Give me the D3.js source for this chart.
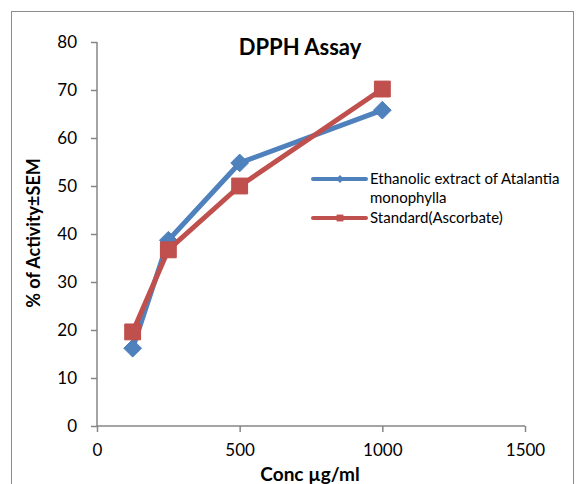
<!DOCTYPE html>
<html>
<head>
<meta charset="utf-8">
<script src="https://cdn.jsdelivr.net/npm/d3@7"></script>
<style>
  body { margin: 0; background: #fff; }
  text { font-family: Lato, "Open Sans", sans-serif; fill: #000; }
</style>
</head>
<body>
<div id="chart"></div>
<script>
// data
const CONC = [125, 250, 500, 1000];
const EXTRACT = [16.2, 38.7, 54.8, 65.8];
const STANDARD = [19.6, 36.7, 50.0, 70.2];
const SERIES_NAMES = ["Ethanolic extract of Atalantia monophylla", "Standard(Ascorbate)"];
const X_TICKS = [0, 500, 1000, 1500];
const Y_TICKS = [0, 10, 20, 30, 40, 50, 60, 70, 80];

const WIDTH = 576;
const HEIGHT = 484;
const MARGINS = {left: 97, right: 54, top: 42, bottom: 58};

const SVG = d3.select("#chart")
              .append("svg")
                .attr("width", WIDTH)
                .attr("height", HEIGHT);

// outer chart frame (bottom and right run off the picture)
SVG.append("rect")
    .attr("x", 11.5)
    .attr("y", 11.5)
    .attr("width", 562)
    .attr("height", 500)
    .attr("fill", "none")
    .attr("stroke", "#8c8c8c")
    .attr("stroke-width", 1);

const X_SCALE = d3.scaleLinear()
                  .domain([0, 1500])
                  .range([MARGINS.left, WIDTH - MARGINS.right + 3]);

const Y_SCALE = d3.scaleLinear()
                  .domain([0, 80])
                  .range([HEIGHT - MARGINS.bottom, MARGINS.top]);

// x axis
const xAxis = SVG.append("g")
    .attr("transform", "translate(0," + Y_SCALE(0) + ")")
    .call(d3.axisBottom(X_SCALE).tickValues(X_TICKS).tickSize(6).tickPadding(12).tickFormat(d3.format("d")));

// y axis
const yAxis = SVG.append("g")
    .attr("transform", "translate(" + X_SCALE(0) + ",0)")
    .call(d3.axisLeft(Y_SCALE).tickValues(Y_TICKS).tickSize(6).tickPadding(14));

[xAxis, yAxis].forEach((ax) => {
  ax.select(".domain").attr("stroke", "#868686").attr("stroke-width", 1.5);
  ax.selectAll(".tick line").attr("stroke", "#868686").attr("stroke-width", 1.5);
  ax.selectAll(".tick text").attr("font-size", "17px").attr("font-family", "Lato, sans-serif").attr("fill", "#000");
});
// d3 draws an outer tick at the ends; keep the line plain
xAxis.select(".domain").attr("d", "M" + X_SCALE(0) + ",0H" + X_SCALE(1500));
yAxis.select(".domain").attr("d", "M0," + Y_SCALE(0) + "V" + Y_SCALE(80));

// titles
SVG.append("text")
    .attr("x", 300)
    .attr("y", 55)
    .attr("text-anchor", "middle")
    .attr("font-size", "22px")
    .attr("font-weight", "bold")
    .text("DPPH Assay");

SVG.append("text")
    .attr("x", 310)
    .attr("y", 481)
    .attr("text-anchor", "middle")
    .attr("font-size", "19px")
    .attr("font-weight", "bold")
    .text("Conc µg/ml");

SVG.append("text")
    .attr("transform", "translate(40,233) rotate(-90)")
    .attr("text-anchor", "middle")
    .attr("font-size", "18px")
    .attr("font-weight", "bold")
    .text("% of Activity±SEM");

// series
const COLORS = ["#4F81BD", "#C0504D"];
const DATA = [EXTRACT, STANDARD].map((vals) => CONC.map((c, i) => ({x: c, y: vals[i]})));

const LINE = d3.line()
               .x((d) => X_SCALE(d.x))
               .y((d) => Y_SCALE(d.y));

DATA.forEach((pts, s) => {
  SVG.append("path")
      .datum(pts)
      .attr("d", LINE)
      .attr("fill", "none")
      .attr("stroke", COLORS[s])
      .attr("stroke-width", 5)
      .attr("stroke-linejoin", "round");

  SVG.selectAll(".pt" + s)
      .data(pts)
      .enter()
      .append("path")
        .attr("class", "pt" + s)
        .attr("transform", (d) => "translate(" + X_SCALE(d.x) + "," + Y_SCALE(d.y) + ")")
        .attr("d", s === 0 ? d3.symbol(d3.symbolDiamond2, 200)() : d3.symbol(d3.symbolSquare2, 320)())
        .attr("fill", COLORS[s])
        .attr("stroke", s === 0 ? "#4A7EBB" : "#BE4B48")
        .attr("stroke-width", 1);
});

// legend
const LEGEND = SVG.append("g");
const LEG_Y = [179, 218];
const LEG_TEXT = [["Ethanolic extract of Atalantia", "monophylla"], ["Standard(Ascorbate)"]];
LEG_Y.forEach((ly, s) => {
  LEGEND.append("line")
      .attr("x1", 313).attr("x2", 366)
      .attr("y1", ly).attr("y2", ly)
      .attr("stroke", COLORS[s])
      .attr("stroke-width", 4)
      .attr("stroke-linecap", "round");
  LEGEND.append("path")
      .attr("transform", "translate(340," + ly + ")")
      .attr("d", s === 0 ? d3.symbol(d3.symbolDiamond2, 40)() : d3.symbol(d3.symbolSquare2, 60)())
      .attr("fill", COLORS[s]);
  LEG_TEXT[s].forEach((t, j) => {
    LEGEND.append("text")
        .attr("x", 370)
        .attr("y", ly + 5 + j * 19)
        .attr("font-size", "15px")
        .text(t);
  });
});
</script>
</body>
</html>
